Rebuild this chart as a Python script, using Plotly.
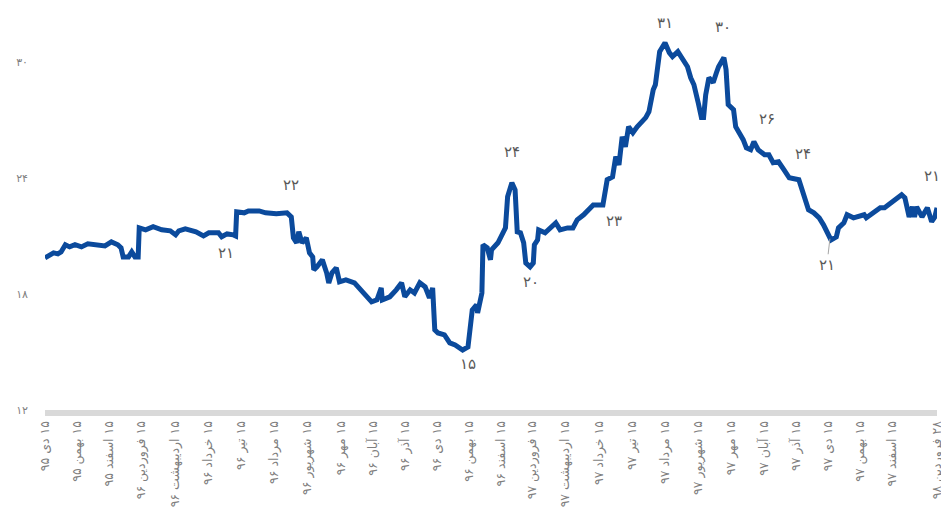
import plotly.graph_objects as go

# days since 15 Dey 1395 (4 Jan 2017) and the rate value
day = [0, 3, 8, 12, 15, 19, 23, 28, 34, 40, 50, 56, 62, 68, 71, 73, 78, 81, 84, 87,
       88, 94, 101, 109, 117, 122, 125, 131, 141, 148, 153, 162, 165, 170, 176, 178,
       179, 186, 190, 200, 206, 216, 226, 230, 232, 235, 237, 240, 244, 247, 250, 251,
       254, 259, 263, 265, 268, 272, 275, 281, 289, 295, 300, 305, 310, 314, 315, 322,
       328, 333, 336, 341, 345, 350, 355, 359, 362, 364, 367, 373, 378, 383, 390, 395,
       399, 403, 404, 408, 409, 413, 416, 417, 423, 427, 430, 432, 436, 439, 441, 444,
       447, 449, 453, 456, 457, 460, 461, 467, 470, 477, 481, 488, 493, 497, 503, 509,
       512, 521, 523, 525, 530, 533, 536, 539, 542, 545, 549, 553, 561, 564, 568, 570,
       574, 579, 583, 586, 591, 596, 600, 603, 606, 610, 613, 615, 617, 620, 624, 627,
       629, 634, 636, 638, 643, 645, 648, 652, 655, 659, 662, 666, 672, 676, 680, 685,
       690, 695, 704, 706, 709, 713, 718, 723, 727, 730, 734, 739, 741, 746, 749, 755,
       758, 765, 767, 774, 780, 784, 791, 796, 800, 803, 807, 810, 812, 814, 819, 824,
       828, 831, 833]
rate = [19.86, 19.97, 20.12, 20.07, 20.17, 20.54, 20.43, 20.54, 20.43, 20.59, 20.54, 20.48,
        20.69, 20.54, 20.38, 19.91, 19.91, 20.17, 19.91, 19.91,
        21.41, 21.31, 21.47, 21.31, 21.26, 21.05, 21.26, 21.36, 21.21, 21.00, 21.16, 21.16,
        20.95, 21.10, 21.05, 21.00,
        22.24, 22.19, 22.29, 22.29, 22.19, 22.14, 22.19, 21.98, 20.90, 20.64, 21.21, 20.64,
        20.90, 20.12, 19.91, 19.24,
        19.40, 19.76, 19.09, 18.57, 19.09, 19.35, 18.62, 18.72, 18.57, 18.21, 17.85, 17.59,
        17.69, 18.31, 17.69, 17.85,
        18.21, 18.57, 17.85, 18.21, 18.05, 18.57, 18.36, 17.79, 18.31, 16.14, 15.98, 15.88,
        15.47, 15.36, 15.10, 15.26,
        17.17, 17.43, 17.02, 18.05, 20.54, 20.38, 19.76, 20.28, 20.64, 21.16, 21.41, 23.02,
        23.74, 23.38, 21.21, 21.16,
        20.64, 19.60, 19.40, 19.60, 20.54, 20.79, 21.31, 21.16, 21.31, 21.67, 21.31, 21.41,
        21.41, 21.83, 22.09, 22.45,
        22.60, 22.60, 23.38, 23.90, 24.05, 25.09, 24.67, 26.12, 25.60, 26.64, 26.33, 26.64,
        27.11, 27.42, 28.55, 28.81,
        30.52, 30.98, 30.47, 30.26, 30.52, 30.11, 29.74, 29.17, 28.81, 27.88, 27.11, 27.11,
        28.29, 29.17, 28.92, 29.43,
        29.74, 30.21, 29.59, 27.78, 27.52, 26.64, 26.38, 25.97, 25.55, 25.45, 25.86, 25.45,
        25.19, 25.19, 24.78, 24.83,
        24.42, 24.00, 23.90, 23.54, 23.02, 22.35, 22.19, 21.93, 21.57, 21.21, 20.79, 20.95,
        21.41, 21.67, 22.09, 21.93,
        21.98, 22.09, 21.93, 22.19, 22.45, 22.45, 22.71, 22.97, 23.12, 22.97, 21.98, 22.50,
        21.98, 22.50, 21.98, 22.45,
        21.73, 21.98, 22.45]

tick_days = [0, 30, 60, 90, 121, 152, 183, 214, 245, 276, 306, 336, 366, 396, 426, 455,
             486, 517, 548, 579, 610, 641, 671, 701, 731, 761, 791, 833]
tick_labels = ["۱۵ دی ۹۵", "۱۵ بهمن ۹۵", "۱۵ اسفند ۹۵", "۱۵ فروردین ۹۶", "۱۵ اردیبهشت ۹۶",
               "۱۵ خرداد ۹۶", "۱۵ تیر ۹۶", "۱۵ مرداد ۹۶", "۱۵ شهریور ۹۶", "۱۵ مهر ۹۶",
               "۱۵ آبان ۹۶", "۱۵ آذر ۹۶", "۱۵ دی ۹۶", "۱۵ بهمن ۹۶", "۱۵ اسفند ۹۶",
               "۱۵ فروردین ۹۷", "۱۵ اردیبهشت ۹۷", "۱۵ خرداد ۹۷", "۱۵ تیر ۹۷", "۱۵ مرداد ۹۷",
               "۱۵ شهریور ۹۷", "۱۵ مهر ۹۷", "۱۵ آبان ۹۷", "۱۵ آذر ۹۷", "۱۵ دی ۹۷",
               "۱۵ بهمن ۹۷", "۱۵ اسفند ۹۷", "۲۸ فروردین ۹۸"]
y_ticks = [12, 18, 24, 30]
y_tick_labels = ["۱۲", "۱۸", "۲۴", "۳۰"]

label_texts = ["۲۱", "۲۲", "۱۵", "۲۴", "۲۰", "۲۳", "۳۱", "۳۰", "۲۶", "۲۴", "۲۱", "۲۱"]
label_days = [169, 230, 395, 436, 454, 531, 579, 633, 674, 708, 730, 828]
label_vals = [20.1, 23.64, 14.38, 25.35, 18.62, 21.78, 31.98, 31.81, 27.05, 25.24, 18.4, 24.1]

RLE, PDF = "\u202b", "\u202c"

fig = go.Figure()
fig.add_trace(go.Scatter(x=day, y=rate, mode="lines",
                         line=dict(color="#0b4a9c", width=5), hoverinfo="skip"))

annos = []
for i, (t, d, v) in enumerate(zip(label_texts, label_days, label_vals)):
    a = dict(x=d, y=v, xref="x", yref="y", text=t, showarrow=False,
             font=dict(family="DejaVu Sans", size=15, color="#595959"))
    if i == 10:
        a.update(showarrow=True, arrowhead=0, arrowwidth=1, arrowcolor="#a6a6a6",
                 x=733, y=20.85, ax=-3, ay=26, axref="pixel", ayref="pixel")
    annos.append(a)

fig.update_layout(
    width=941, height=527,
    margin=dict(l=45, r=4, t=23, b=117),
    paper_bgcolor="white", plot_bgcolor="white",
    showlegend=False,
    annotations=annos,
    xaxis=dict(range=[0, 833], tickmode="array", tickvals=tick_days,
               ticktext=[RLE + s + PDF for s in tick_labels],
               tickangle=-90, showgrid=False, zeroline=False, showline=True,
               linecolor="#d9d9d9", linewidth=6, ticks="", automargin=False,
               ticklabeloverflow="allow",
               tickfont=dict(family="DejaVu Sans", size=12.5, color="#7f7f7f")),
    yaxis=dict(range=[12, 32], tickmode="array", tickvals=y_ticks, ticktext=y_tick_labels,
               showgrid=False, zeroline=False, showline=False, ticks="",
               ticklabelstandoff=16, automargin=False,
               tickfont=dict(family="DejaVu Sans", size=11, color="#7f7f7f")),
)

fig.write_html("out.html", config={"displayModeBar": False},
               post_script="document.body.style.margin='0';")
